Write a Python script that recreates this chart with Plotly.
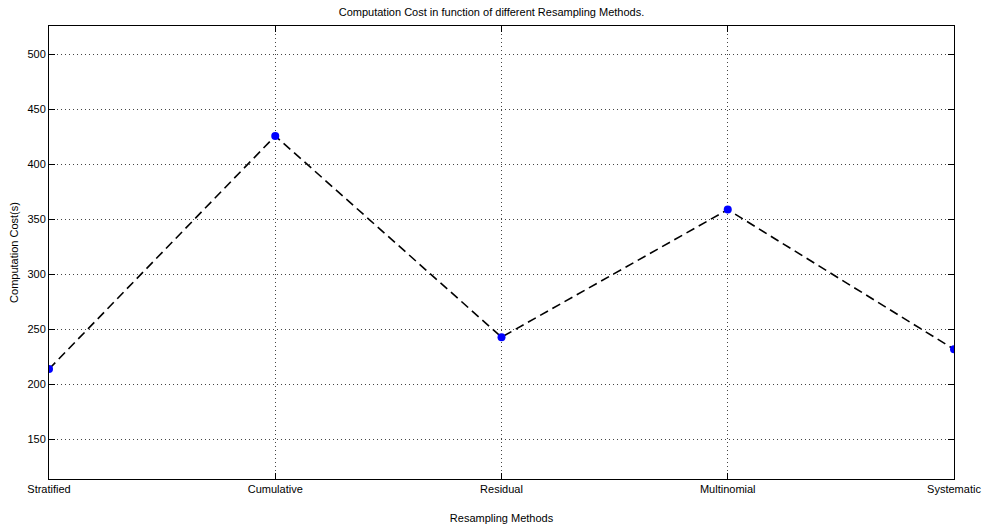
import plotly.graph_objects as go

# Resampling methods and their measured computation cost (seconds)
methods = ["Stratified", "Cumulative", "Residual", "Multinomial", "Systematic"]
cost = [214, 426, 243, 359, 232]
y_ticks = [150, 200, 250, 300, 350, 400, 450, 500]

font = dict(family="Liberation Sans, Arial, sans-serif", size=11, color="#000000")

fig = go.Figure()
fig.add_trace(go.Scatter(
    x=methods, y=cost,
    mode="lines+markers",
    line=dict(color="#000000", width=1.6, dash="9px,5px"),
    marker=dict(color="#0000ff", size=8, line=dict(width=0)),
    showlegend=False,
))

axis_common = dict(
    showline=True, linecolor="#000000", linewidth=1, mirror="ticks",
    ticks="inside", ticklen=6, tickcolor="#000000",
    showgrid=True, gridcolor="#444444", griddash="1px,3px", gridwidth=1,
    zeroline=False, tickfont=font, automargin=False,
)

fig.update_layout(
    width=983, height=526,
    margin=dict(l=49, r=29, t=26, b=47),
    paper_bgcolor="#ffffff", plot_bgcolor="#ffffff",
    font=font,
    title=dict(text="Computation Cost in function of different Resampling Methods.",
               x=0.5, xanchor="center", y=0.977, yanchor="middle",
               font=dict(family="Liberation Sans, Arial, sans-serif", size=11)),
    xaxis=dict(type="category", range=[0, len(methods) - 1],
               title=dict(text="Resampling Methods", standoff=20, font=font),
               **axis_common),
    yaxis=dict(range=[min(cost) - 100, max(cost) + 100],
               tickvals=y_ticks,
               title=dict(text="Computation Cost(s)", standoff=6, font=font),
               **axis_common),
)

fig.write_html("out.html")
